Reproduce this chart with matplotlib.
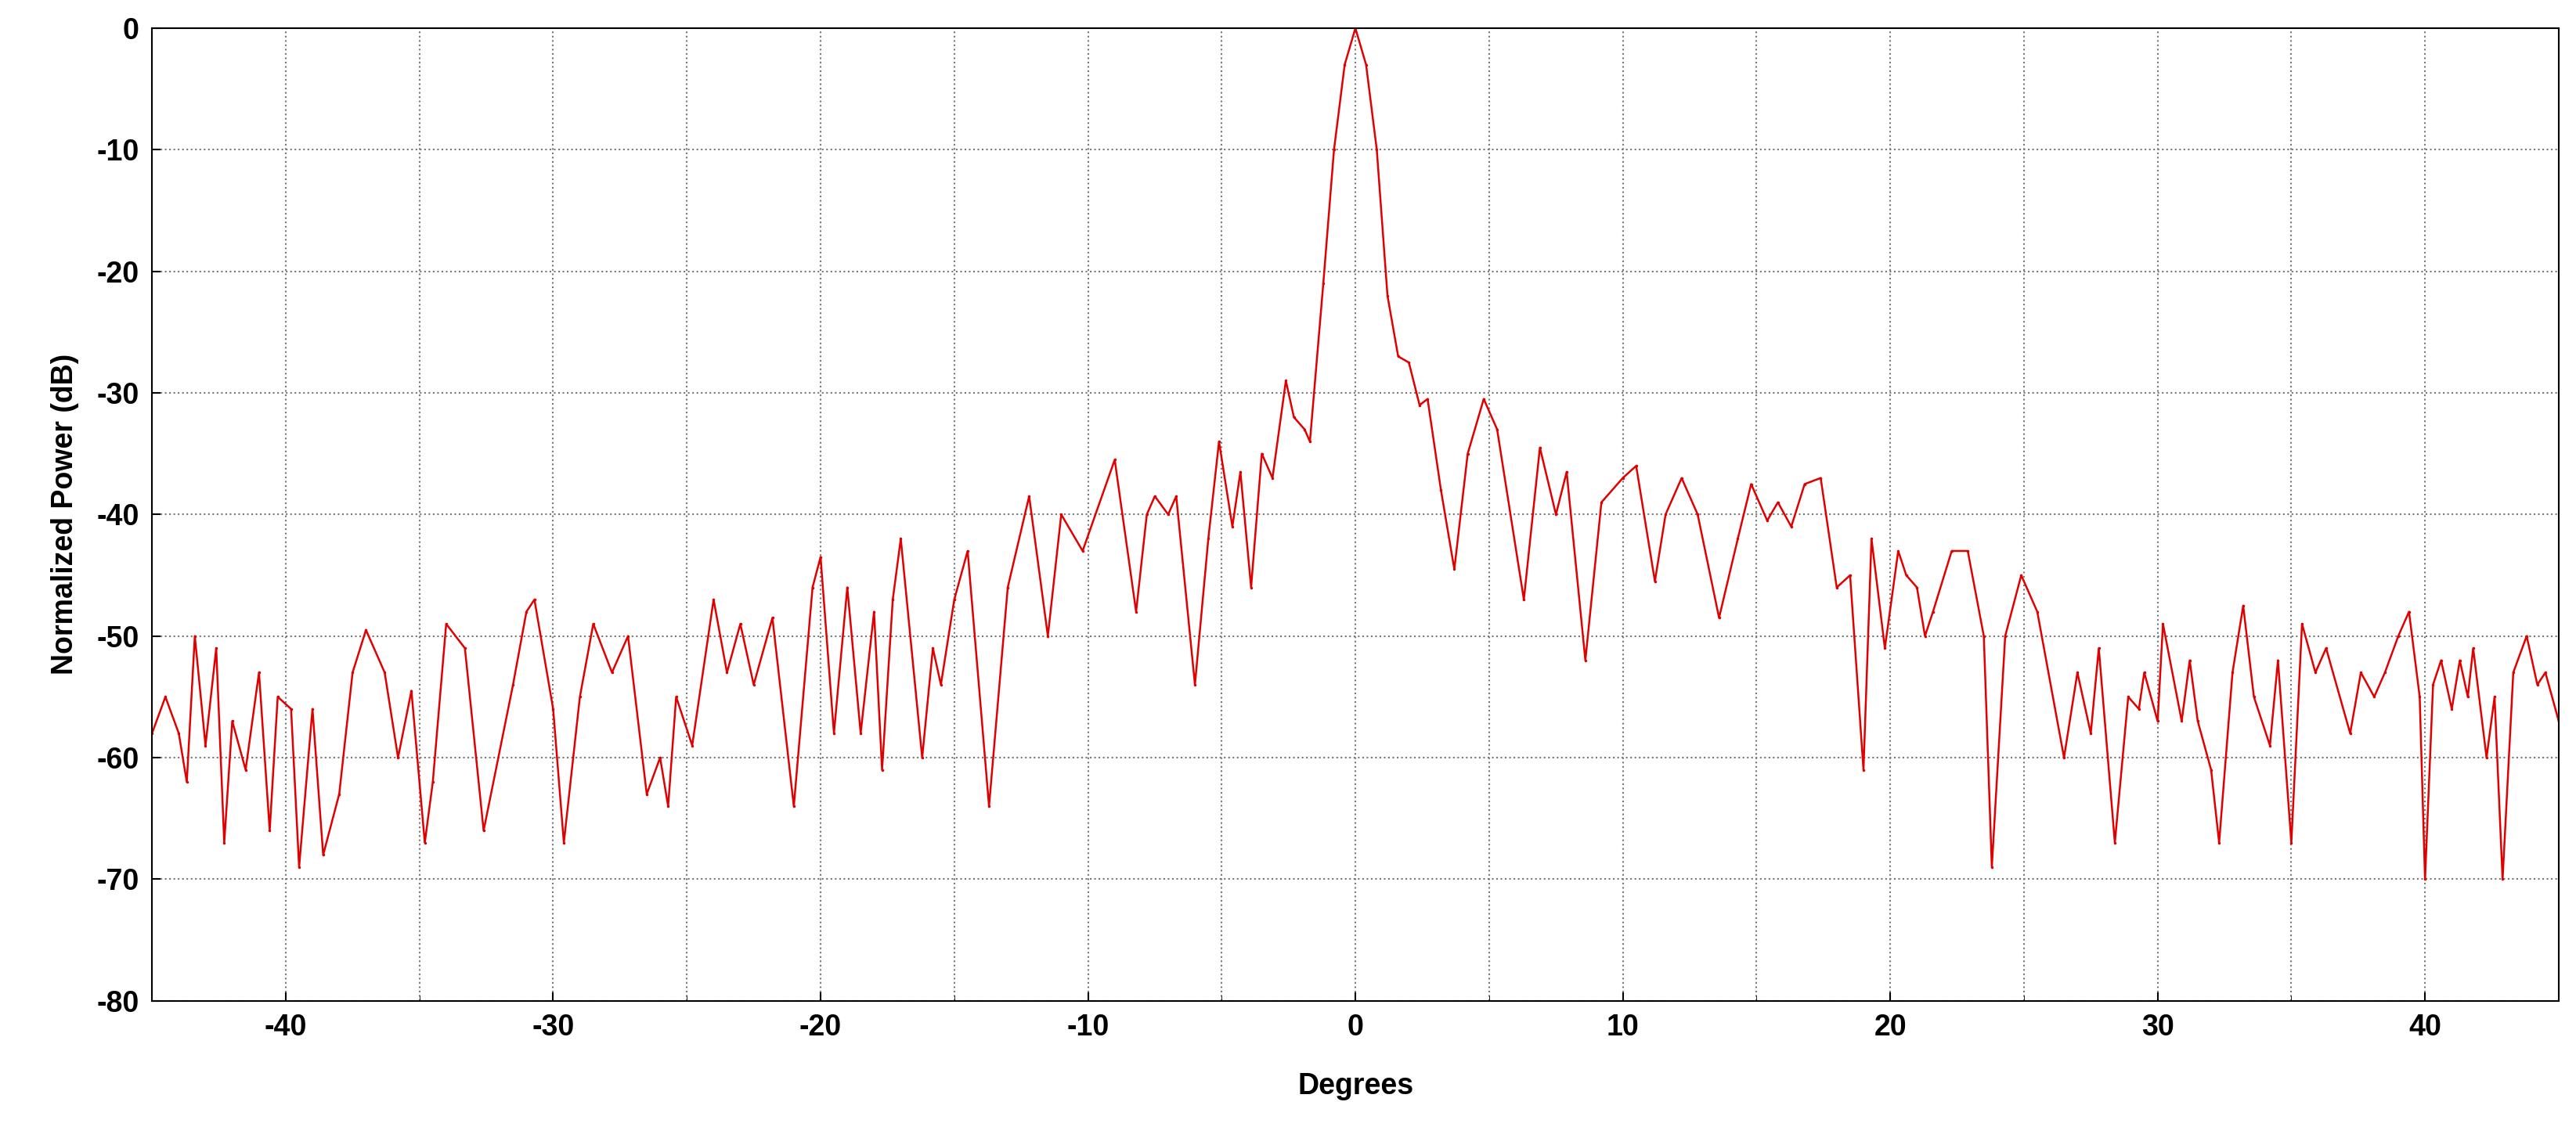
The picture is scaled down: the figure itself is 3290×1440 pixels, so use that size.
import matplotlib
matplotlib.use("Agg")
import matplotlib.pyplot as plt

plt.rcParams['font.family'] = ['Liberation Sans', 'DejaVu Sans']
plt.rcParams['axes.unicode_minus'] = False

degrees = [-45,-44.5,-44,-43.7,-43.4,-43,-42.6,-42.3,-42,-41.5,-41,-40.6,-40.3,-39.8,-39.5,-39,-38.6,-38,-37.5,-37,-36.3,-35.8,-35.3,-34.8,-34.5,-34,-33.3,-32.6,-31.5,-31,-30.7,-30,-29.6,-29,-28.5,-27.8,-27.2,-26.5,-26,-25.7,-25.4,-24.8,-24,-23.5,-23,-22.5,-21.8,-21,-20.3,-20,-19.5,-19,-18.5,-18,-17.7,-17.3,-17,-16.2,-15.8,-15.5,-15,-14.5,-13.7,-13,-12.2,-11.5,-11,-10.2,-9,-8.2,-7.8,-7.5,-7,-6.7,-6,-5.5,-5.1,-4.6,-4.3,-3.9,-3.5,-3.1,-2.6,-2.3,-1.9,-1.7,-1.2,-0.8,-0.4,0,0.4,0.8,1.2,1.6,2,2.4,2.7,3.2,3.7,4.2,4.8,5.3,6.3,6.9,7.5,7.9,8.6,9.2,10,10.5,11.2,11.6,12.2,12.8,13.6,14.3,14.8,15.4,15.8,16.3,16.8,17.4,18,18.5,19,19.3,19.8,20.3,20.6,21,21.3,21.6,22.3,22.9,23.5,23.8,24.3,24.9,25.5,26.5,27,27.5,27.8,28.4,28.9,29.3,29.5,30,30.2,30.9,31.2,31.5,32,32.3,32.8,33.2,33.6,34.2,34.5,35,35.4,35.9,36.3,37.2,37.6,38.1,38.5,39,39.4,39.8,40,40.3,40.6,41,41.3,41.6,41.8,42.3,42.6,42.9,43.3,43.8,44.2,44.5,45]
power = [-58,-55,-58,-62,-50,-59,-51,-67,-57,-61,-53,-66,-55,-56,-69,-56,-68,-63,-53,-49.5,-53,-60,-54.5,-67,-62,-49,-51,-66,-54,-48,-47,-56,-67,-55,-49,-53,-50,-63,-60,-64,-55,-59,-47,-53,-49,-54,-48.5,-64,-46,-43.5,-58,-46,-58,-48,-61,-47,-42,-60,-51,-54,-47,-43,-64,-46,-38.5,-50,-40,-43,-35.5,-48,-40,-38.5,-40,-38.5,-54,-42,-34,-41,-36.5,-46,-35,-37,-29,-32,-33,-34,-21,-10,-3,0,-3,-10,-22,-27,-27.5,-31,-30.5,-38,-44.5,-35,-30.5,-33,-47,-34.5,-40,-36.5,-52,-39,-37,-36,-45.5,-40,-37,-40,-48.5,-42,-37.5,-40.5,-39,-41,-37.5,-37,-46,-45,-61,-42,-51,-43,-45,-46,-50,-48,-43,-43,-50,-69,-50,-45,-48,-60,-53,-58,-51,-67,-55,-56,-53,-57,-49,-57,-52,-57,-61,-67,-53,-47.5,-55,-59,-52,-67,-49,-53,-51,-58,-53,-55,-53,-50,-48,-55,-70,-54,-52,-56,-52,-55,-51,-60,-55,-70,-53,-50,-54,-53,-57]

fig = plt.figure(figsize=(32.91, 14.40), dpi=100)
ax = fig.add_axes([0.059, 0.112, 0.934, 0.863])
ax.plot(degrees, power, color="#e00000", lw=1.8, marker='.', ms=3)
ax.set_xlim(-45, 45)
ax.set_ylim(-80, 0)
ax.set_xticks(range(-40, 41, 10))
ax.set_xticks(range(-45, 46, 5), minor=True)
ax.set_yticks(range(-80, 1, 10))
ax.grid(True, which='both', color='#777777', linestyle=':', linewidth=1.5)
ax.tick_params(labelsize=27, width=1.5, length=8, direction='in', pad=12)
ax.tick_params(which='minor', length=5, direction='in')
for lab in ax.get_xticklabels() + ax.get_yticklabels():
    lab.set_fontweight('bold')
ax.set_xlabel("Degrees", fontsize=27, fontweight='bold', labelpad=28)
ax.set_ylabel("Normalized Power (dB)", fontsize=27, fontweight='bold', labelpad=16)
for s in ax.spines.values():
    s.set_linewidth(1.5)
fig.savefig("out.png", dpi=100)
